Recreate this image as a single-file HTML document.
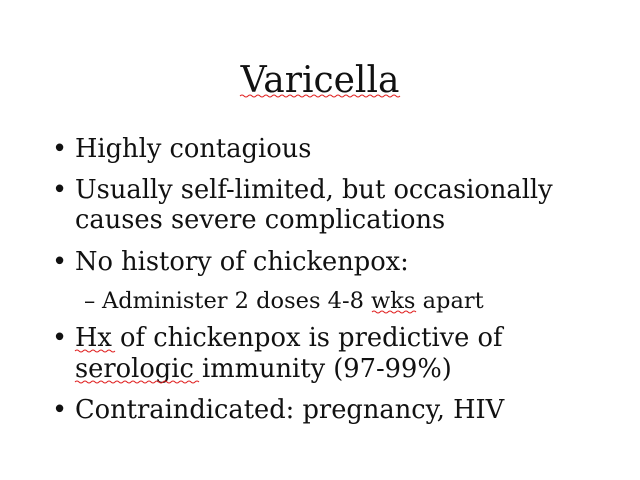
<!DOCTYPE html>
<html><head><meta charset="utf-8"><style>
html,body{margin:0;padding:0;background:#fff;}
svg{display:block;}
text{font-family:"DejaVu Serif","Liberation Serif",serif;fill:#111;}
.w{fill:none;stroke:#e02020;stroke-width:1;}
</style></head><body>
<svg width="640" height="480">
<text x="320" y="92" font-size="36" text-anchor="middle">Varicella</text>
<path class="w" d="M240 96 q2 -2 4 0 t4 0 t4 0 t4 0 t4 0 t4 0 t4 0 t4 0 t4 0 t4 0 t4 0 t4 0 t4 0 t4 0 t4 0 t4 0 t4 0 t4 0 t4 0 t4 0 t4 0 t4 0 t4 0 t4 0 t4 0 t4 0 t4 0 t4 0 t4 0 t4 0 t4 0 t4 0 t4 0 t4 0 t4 0 t4 0 t4 0 t4 0 t4 0 t4 0"/>
<g font-size="25.7">
<text x="52" y="157">•</text>
<text x="75" y="157">Highly contagious</text>
<text x="52" y="198">•</text>
<text x="75" y="198">Usually self-limited, but occasionally</text>
<text x="75" y="228">causes severe complications</text>
<text x="52" y="270">•</text>
<text x="75" y="270">No history of chickenpox:</text>
<text x="84" y="308" font-size="22.5">–</text>
<text x="102" y="308" font-size="22.5">Administer 2 doses 4-8 wks apart</text>
<text x="52" y="346">•</text>
<text x="75" y="346">Hx of chickenpox is predictive of</text>
<text x="75" y="377">serologic immunity (97-99%)</text>
<text x="52" y="418">•</text>
<text x="75" y="418">Contraindicated: pregnancy, HIV</text>
</g>
<path class="w" d="M372 312 q2 -2 4 0 t4 0 t4 0 t4 0 t4 0 t4 0 t4 0 t4 0 t4 0 t4 0 t4 0"/>
<path class="w" d="M75 351 q2 -2 4 0 t4 0 t4 0 t4 0 t4 0 t4 0 t4 0 t4 0 t4 0 t4 0"/>
<path class="w" d="M75 382 q2 -2 4 0 t4 0 t4 0 t4 0 t4 0 t4 0 t4 0 t4 0 t4 0 t4 0 t4 0 t4 0 t4 0 t4 0 t4 0 t4 0 t4 0 t4 0 t4 0 t4 0 t4 0 t4 0 t4 0 t4 0 t4 0 t4 0 t4 0 t4 0 t4 0 t4 0 t4 0"/>
</svg>
</body></html>
